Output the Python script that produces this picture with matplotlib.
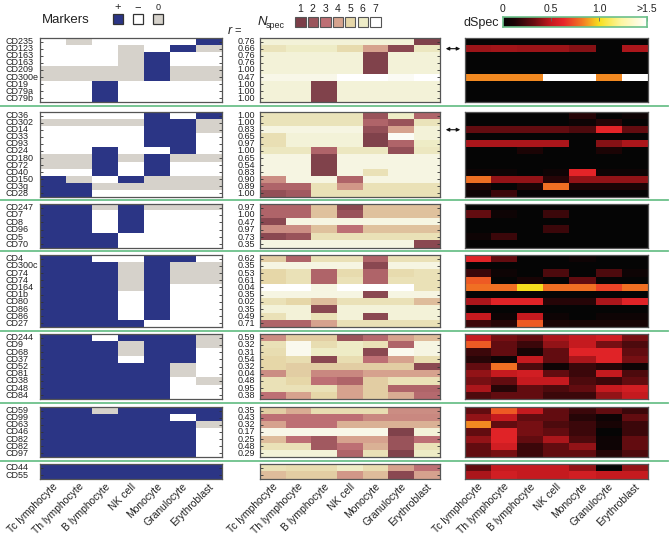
import numpy as np
import matplotlib
matplotlib.use('Agg')
import matplotlib.pyplot as plt
from matplotlib.colors import ListedColormap, LinearSegmentedColormap
from matplotlib.lines import Line2D
from matplotlib.patches import Rectangle, FancyArrowPatch
import matplotlib.transforms as mtransforms

plt.rcParams['font.family'] = ['Liberation Sans', 'DejaVu Sans']

# ---------------- data ----------------
cell_types = ['Tc lymphocyte', 'Th lymphocyte', 'B lymphocyte', 'NK cell',
              'Monocyte', 'Granulocyte', 'Erythroblast']

group_labels = [
    ['CD235', 'CD123', 'CD163', 'CD163', 'CD209', 'CD300e', 'CD19', 'CD79a', 'CD79b'],
    ['CD36', 'CD302', 'CD14', 'CD33', 'CD93', 'CD24', 'CD180', 'CD72', 'CD40', 'CD150', 'CD3g', 'CD28'],
    ['CD247', 'CD7', 'CD8', 'CD96', 'CD5', 'CD70'],
    ['CD4', 'CD300c', 'CD74', 'CD74', 'CD164', 'CD1b', 'CD80', 'CD86', 'CD86', 'CD27'],
    ['CD244', 'CD9', 'CD68', 'CD37', 'CD52', 'CD81', 'CD38', 'CD48', 'CD84'],
    ['CD59', 'CD99', 'CD63', 'CD46', 'CD82', 'CD82', 'CD97'],
    ['CD44', 'CD55'],
]

# marker codes: 1 = '+', 0 = '-', 2 = '0'
group_markers = [
    [[0,2,0,0,0,0,1],[0,0,0,2,0,1,2],[0,0,0,2,1,0,0],[0,0,0,2,1,0,0],[2,2,2,2,1,2,2],
     [2,2,2,2,1,2,2],[0,0,1,0,0,0,0],[0,0,1,0,0,0,0],[0,0,1,0,0,0,0]],
    [[0,0,0,0,1,0,1],[2,2,2,2,1,1,2],[0,0,0,0,1,1,2],[0,0,0,0,1,1,0],[0,0,0,0,1,1,0],
     [0,0,1,0,0,1,0],[2,2,1,2,1,2,2],[2,2,1,0,1,0,0],[0,0,1,0,1,0,0],[1,2,0,1,2,2,2],
     [1,1,2,2,2,2,2],[1,1,0,0,0,0,0]],
    [[1,1,2,1,2,2,2],[1,1,0,1,0,0,0],[1,1,0,1,0,0,0],[1,1,0,1,0,0,0],[1,1,1,0,0,0,0],
     [1,1,1,0,0,0,0]],
    [[1,1,0,0,1,1,0],[1,1,1,2,1,2,2],[1,1,1,2,1,2,2],[1,1,1,2,1,2,2],[1,1,1,2,1,0,0],
     [1,1,1,0,1,0,0],[1,1,1,0,1,0,0],[1,1,1,0,1,0,0],[1,1,1,0,1,0,0],[1,1,1,1,0,0,0]],
    [[1,1,0,1,1,1,2],[1,1,1,2,1,1,2],[1,1,1,2,1,1,0],[1,1,1,0,1,1,0],[1,1,1,1,1,2,0],
     [1,1,1,1,1,2,0],[1,1,1,1,1,0,2],[1,1,1,1,1,0,0],[1,1,1,1,1,0,0]],
    [[1,1,2,1,1,1,1],[1,1,1,1,1,0,1],[1,1,1,1,1,1,2],[1,1,1,1,1,1,0],[1,1,1,1,1,1,0],
     [1,1,1,1,1,1,0],[1,1,1,1,1,1,0]],
    [[1,1,1,1,1,1,1],[1,1,1,1,1,1,1]],
]

group_r = [
    [0.76, 0.66, 0.76, 0.76, 1.00, 0.47, 1.00, 1.00, 1.00],
    [1.00, 1.00, 0.83, 0.65, 0.97, 1.00, 0.65, 0.54, 0.83, 0.90, 0.89, 1.00],
    [0.97, 1.00, 0.47, 0.97, 0.73, 0.35],
    [0.62, 0.35, 0.53, 0.61, 0.04, 0.35, 0.02, 0.35, 0.49, 0.71],
    [0.59, 0.32, 0.31, 0.54, 0.32, 0.04, 0.48, 0.95, 0.38],
    [0.35, 0.43, 0.32, 0.17, 0.25, 0.48, 0.29],
    [],
]

group_nspec = [
    [[6.3,6.3,6.3,6.3,6.3,6.3,1.2],[5.6,6.0,6.0,5.2,4.0,1.5,5.8],[6.3,6.3,6.3,6.3,1.2,6.3,6.3],
     [6.3,6.3,6.3,6.3,1.2,6.3,6.3],[6.3,6.3,6.3,6.3,1.2,6.3,6.3],[6.6,6.6,6.6,7.0,7.0,6.8,7.0],
     [6.3,6.3,1.2,6.3,6.3,6.3,6.3],[6.3,6.3,1.2,6.3,6.3,6.3,6.3],[6.3,6.3,1.2,6.3,6.3,6.3,6.3]],
    [[5.6,5.6,5.6,5.6,2.0,6.0,2.6],[5.6,5.6,5.6,5.6,2.6,2.0,5.6],[6.5,6.5,6.5,6.5,1.8,4.0,6.3],
     [5.4,6.3,6.3,6.3,1.2,6.8,6.3],[5.4,6.3,6.3,6.3,1.2,2.6,6.0],[5.8,5.8,2.6,5.8,5.8,1.8,5.8],
     [6.5,6.5,1.2,6.5,6.5,6.5,6.5],[6.5,6.5,1.2,6.5,6.5,6.5,6.5],[6.5,6.5,1.2,6.5,5.5,6.5,6.5],
     [3.6,6.5,6.5,2.6,6.5,6.5,6.5],[2.6,2.6,5.5,3.8,5.5,5.5,5.5],[1.8,2.2,5.5,5.5,5.5,5.5,5.5]],
    [[2.6,2.6,4.6,1.5,4.6,4.6,4.6],[2.6,2.6,4.6,2.0,4.6,4.6,4.6],[1.5,6.5,6.5,6.5,6.5,6.5,6.5],
     [3.6,3.6,4.6,3.0,4.6,4.6,4.6],[1.5,2.0,5.5,5.5,5.5,5.5,5.5],[6.5,6.5,6.5,6.5,6.5,6.5,1.5]],
    [[4.8,2.6,5.5,5.5,2.6,5.5,5.5],[6.5,6.5,6.5,6.5,1.5,6.5,6.5],[5.0,5.5,2.6,5.2,2.6,5.2,5.5],
     [5.0,5.5,2.6,5.5,2.6,5.5,5.5],[7.0,7.0,6.5,7.0,7.0,7.0,5.5],[6.5,6.5,6.5,6.5,1.5,6.5,6.5],
     [5.5,5.0,4.5,5.5,5.5,5.5,4.5],[6.3,6.3,1.5,6.3,6.3,6.3,6.3],[5.5,6.3,5.5,6.3,1.5,6.3,6.3],
     [2.6,2.6,4.0,5.5,5.5,5.5,5.5]],
    [[3.6,4.8,4.8,2.0,2.8,4.0,4.5],[5.5,6.7,5.3,6.0,5.5,2.6,6.5],[5.3,6.7,6.0,6.0,1.5,6.7,6.5],
     [5.0,5.3,1.5,5.3,3.0,4.0,5.3],[5.0,4.8,4.8,4.8,4.8,4.8,1.5],[3.6,4.8,3.5,3.5,4.0,4.0,4.0],
     [5.5,5.0,3.0,2.6,4.8,5.5,5.5],[5.5,5.5,5.5,4.0,4.8,2.6,2.6],[3.0,4.0,5.0,4.0,4.8,4.2,2.8]],
    [[4.8,4.2,5.3,5.3,5.3,3.6,3.6],[3.0,3.0,3.0,3.0,3.5,3.5,3.5],[4.0,3.0,3.0,4.3,4.3,4.3,4.3],
     [6.6,6.6,6.6,6.6,6.6,1.2,6.3],[4.5,3.0,2.2,4.0,4.0,2.0,3.0],[5.5,5.5,2.2,3.0,4.3,2.0,5.5],
     [6.3,6.3,6.3,2.6,5.5,1.2,6.0]],
    [[5.5,5.3,5.3,6.0,5.3,4.0,3.0],[4.5,4.8,4.8,3.8,4.5,1.5,4.0]],
]

group_dspec = [
    [[0,0,0,0,0,0,0],[0.42,0.43,0.42,0.42,0.38,0,0.45],[0,0,0,0,0,0,0],[0,0,0,0,0,0,0],
     [0,0,0,0,0,0,0],[0.85,0.85,0.85,1.6,1.6,0.85,1.6],[0,0,0,0,0,0,0],[0,0,0,0,0,0,0],
     [0,0,0,0,0,0,0]],
    [[0,0,0,0,0.15,0,0.05],[0,0,0,0,0.05,0.15,0],[0.3,0.3,0.3,0.3,0.25,0.62,0.3],
     [0,0,0,0,0,0,0],[0.45,0.45,0.45,0.45,0,0.38,0.45],[0,0,0.12,0,0,0.12,0],
     [0,0,0,0,0,0,0],[0,0,0,0,0,0,0],[0.05,0.05,0,0.05,0.62,0.05,0.05],
     [0.8,0.4,0.4,0.15,0.4,0.4,0.4],[0.12,0,0.12,0.8,0.12,0.12,0.12],[0.05,0.2,0,0,0,0,0]],
    [[0,0,0,0,0,0,0],[0.3,0.05,0,0.2,0,0,0],[0,0,0,0,0,0,0],[0,0,0,0.2,0,0,0],
     [0.05,0.2,0,0,0,0,0],[0,0,0,0,0,0,0]],
    [[0.6,0.3,0,0,0.05,0,0],[0,0,0,0,0,0,0],[0.2,0.05,0,0.25,0,0.25,0.05],
     [0.75,0,0.1,0,0.3,0,0],[0.8,0.8,1.0,0.8,0.8,0.7,0.8],[0,0,0,0,0,0,0],
     [0.45,0.6,0.6,0.15,0.15,0.45,0.6],[0,0,0,0,0,0,0],[0.5,0.05,0.5,0.05,0,0.05,0.05],
     [0.2,0.15,0.75,0.12,0.1,0.1,0.1]],
    [[0.5,0.35,0.3,0.45,0.5,0.55,0.35],[0.75,0.3,0.2,0.4,0.5,0.35,0.25],[0.2,0.3,0.1,0.3,0.6,0.6,0.3],
     [0.15,0.05,0.5,0.3,0.45,0.6,0.35],[0.3,0.8,0.25,0.05,0.2,0.15,0.05],[0.4,0.5,0.55,0.3,0.2,0.5,0.25],
     [0.35,0.3,0.5,0.5,0.25,0.2,0.3],[0.45,0.15,0.3,0.25,0.3,0.5,0.55],[0.25,0.3,0.3,0.2,0.2,0.4,0.5]],
    [[0.3,0.75,0.5,0.3,0.2,0.3,0.2],[0.4,0.5,0.3,0.3,0.15,0.05,0.3],[0.85,0.3,0.35,0.25,0.2,0.1,0.2],
     [0.3,0.6,0.35,0.3,0.2,0.0,0.2],[0.4,0.6,0.3,0.45,0.25,0.05,0.3],[0.3,0.55,0.2,0.3,0.4,0.05,0.3],
     [0.3,0.35,0.2,0.3,0.3,0.15,0.25]],
    [[0.3,0.5,0.5,0.5,0.4,0.0,0.4],[0.45,0.55,0.5,0.5,0.55,0.5,0.5]],
]

nspec_levels = [1, 2, 3, 4, 5, 6, 7]
dspec_ticks = [0, 0.5, 1.0, 1.5]
dspec_ticklabels = ['0', '0.5', '1.0', '>1.5']

# ---------------- styles / layout ----------------
W, H = 672, 537
fig = plt.figure(figsize=(W / 100, H / 100), dpi=100)

def fx(px):
    return px / W

def fy(py):
    return 1 - py / H

group_bounds = [(38, 102), (112, 197), (204, 248), (255, 327), (334, 399), (407, 457), (464, 479)]
sep_lines = [106, 200, 251, 330.5, 403, 460.5]
panel_x = {'m': (40, 222), 'n': (260, 440), 'd': (465, 648)}

marker_colors = ['#ffffff', '#2b3585', '#d6d2cb']
marker_cmap = ListedColormap(marker_colors)
nspec_colors = ['#7b3e48', '#9a545b', '#bd6f74', '#d6a28e', '#e6d7a8', '#eeecc6', '#ffffff']
nspec_cmap = LinearSegmentedColormap.from_list('nspec', nspec_colors)
dspec_cmap = LinearSegmentedColormap.from_list('dspec', [
    (0.0, '#050505'), (0.08, '#1c0406'), (0.22, '#6e0e12'), (0.33, '#c41a1f'),
    (0.42, '#e8262a'), (0.55, '#f27a22'), (0.67, '#f8e01e'), (0.82, '#fdf6a0'),
    (1.0, '#ffffff')])

spine_col = '#555555'
green = '#6cc08a'
fs = 6.5

def style_axes(ax, n, ticks=True):
    ax.set_xticks([])
    ax.set_xlim(0, 7)
    ax.set_ylim(n, 0)
    if ticks:
        ax.set_yticks(np.arange(n) + 0.5)
        ax.set_yticklabels([])
        ax.tick_params(axis='y', left=True, right=True, direction='in', length=2.2,
                       width=0.6, color='#333333')
    else:
        ax.set_yticks([])
    for s in ax.spines.values():
        s.set_color(spine_col)
        s.set_linewidth(0.9)

last_axes = {}
for g, (yt, yb) in enumerate(group_bounds):
    labels = group_labels[g]
    n = len(labels)
    axes = {}
    for key in ['m', 'n', 'd']:
        x0, x1 = panel_x[key]
        axes[key] = fig.add_axes([fx(x0), fy(yb), (x1 - x0) / W, (yb - yt) / H])
    ext = (0, 7, n, 0)
    axes['m'].imshow(np.array(group_markers[g]), cmap=marker_cmap, vmin=-0.5, vmax=2.5,
                     aspect='auto', interpolation='nearest', extent=ext)
    axes['n'].imshow(np.array(group_nspec[g]), cmap=nspec_cmap, vmin=1, vmax=7,
                     aspect='auto', interpolation='nearest', extent=ext)
    axes['d'].imshow(np.array(group_dspec[g]), cmap=dspec_cmap, vmin=0, vmax=1.5,
                     aspect='auto', interpolation='nearest', extent=ext)
    style_axes(axes['m'], n)
    style_axes(axes['n'], n)
    style_axes(axes['d'], n, ticks=False)

    tr = mtransforms.blended_transform_factory(fig.transFigure, axes['m'].transData)
    for i, lab in enumerate(labels):
        axes['m'].text(fx(5), i + 0.5, lab, transform=tr, ha='left', va='center',
                       fontsize=fs, color='#222222')
    for i, r in enumerate(group_r[g]):
        axes['m'].text(fx(255), i + 0.5, f'{r:.2f}', transform=tr, ha='right',
                       va='center', fontsize=fs, color='#222222')
    last_axes = axes

# column labels under the last group
for key in ['m', 'n', 'd']:
    ax = last_axes[key]
    trc = mtransforms.blended_transform_factory(ax.transData, fig.transFigure)
    for j, ct in enumerate(cell_types):
        ax.text(j + 0.62, fy(485), ct, transform=trc, rotation=45, rotation_mode='anchor',
                ha='right', va='center', fontsize=7.5, color='#222222')

# green separators
for y in sep_lines:
    fig.add_artist(Line2D([0, fx(668)], [fy(y), fy(y)], transform=fig.transFigure,
                          color=green, lw=1.3))

# Markers legend
fig.text(fx(42), fy(20), 'Markers', fontsize=9.5, va='center', ha='left', color='#222222')
for k, (sym, col) in enumerate(zip(['+', '\u2212', '0'], [marker_colors[1], marker_colors[0], marker_colors[2]])):
    x = 113 + 20 * k
    fig.add_artist(Rectangle((fx(x), fy(24)), 9.5 / W, 9.5 / H, transform=fig.transFigure,
                             facecolor=col, edgecolor='#333333', lw=0.9))
    fig.text(fx(x + 4.75), fy(7), sym, fontsize=8 if k < 2 else 6.5, ha='center',
             va='center', color='#222222')

# r = header
fig.text(fx(228), fy(31), 'r', fontsize=9, style='italic', ha='left', va='center', color='#222222')
fig.text(fx(234), fy(31), '=', fontsize=8, ha='left', va='center', color='#222222')

# Nspec legend
fig.text(fx(258), fy(22), 'N', fontsize=9.5, style='italic', ha='left', va='center', color='#222222')
fig.text(fx(266), fy(25), 'spec', fontsize=6.5, ha='left', va='center', color='#222222')
for k, lev in enumerate(nspec_levels):
    x = 295 + 12.5 * k
    fig.add_artist(Rectangle((fx(x), fy(27)), 10.5 / W, 9.5 / H, transform=fig.transFigure,
                             facecolor=nspec_cmap((lev - 1) / 6), edgecolor='#555555', lw=0.8))
    fig.text(fx(x + 5.25), fy(9), str(lev), fontsize=7.5, ha='center', va='center',
             color='#222222')

# dSpec colorbar
fig.text(fx(464), fy(23), 'dSpec', fontsize=9, ha='left', va='center', color='#222222')
cax = fig.add_axes([fx(503), fy(27), 144 / W, 10 / H])
cax.imshow(np.linspace(0, 1.5, 256)[None, :], cmap=dspec_cmap, vmin=0, vmax=1.5,
           aspect='auto', extent=(0, 1.5, 0, 1))
cax.set_yticks([])
cax.xaxis.tick_top()
cax.set_xticks(dspec_ticks)
cax.set_xticklabels(dspec_ticklabels, fontsize=7.5, color='#222222')
cax.tick_params(axis='x', direction='in', length=3, width=0.6, color='#666666', pad=2)
for s in cax.spines.values():
    s.set_color(green)
    s.set_linewidth(1.2)

# arrows
for (g, i) in [(0, 1), (1, 2)]:
    yt, yb = group_bounds[g]
    n = len(group_labels[g])
    yc = yt + (i + 0.5) * (yb - yt) / n
    fig.add_artist(FancyArrowPatch((fx(443), fy(yc)), (fx(463), fy(yc)),
                                   transform=fig.transFigure, arrowstyle='<|-|>',
                                   mutation_scale=5, lw=0.8, color='#111111'))

fig.savefig('out.png', dpi=100)
